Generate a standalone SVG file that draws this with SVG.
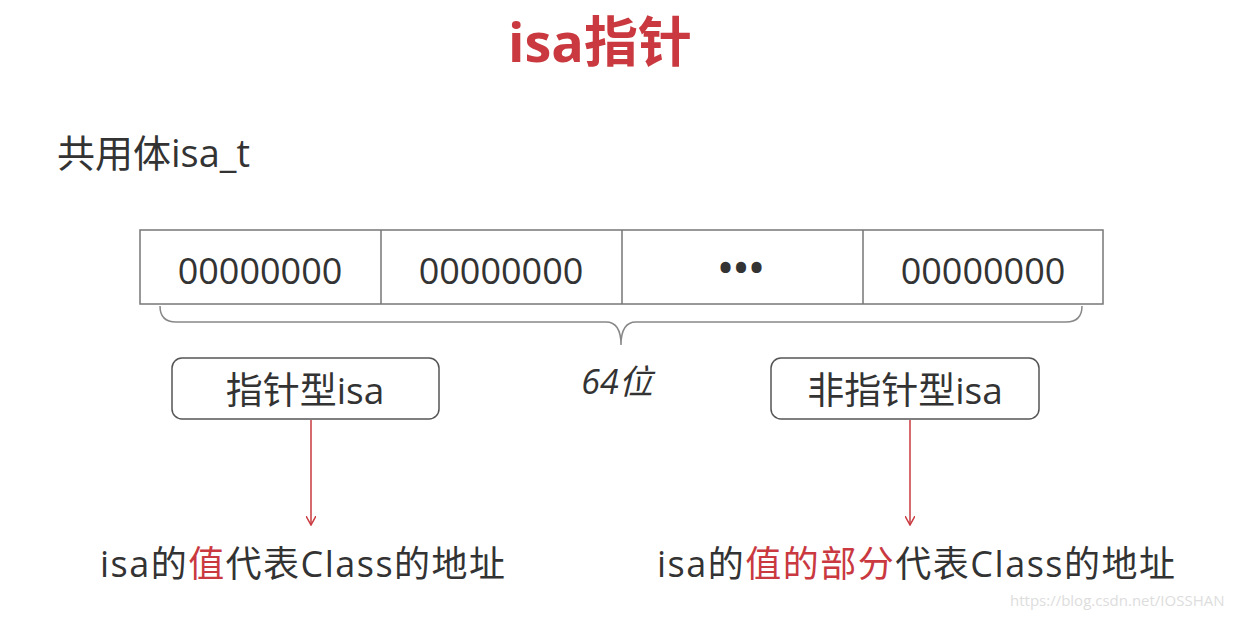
<svg xmlns="http://www.w3.org/2000/svg" width="1236" height="618" viewBox="0 0 1236 618">
<style>
text{font-family:"Open Sans","Noto Sans CJK SC",sans-serif;fill:#333}
.cell{font-size:36px;text-anchor:middle}
.bt{font-size:37px;text-anchor:middle}
.box{fill:#fff;stroke:#555;stroke-width:1.5}
.red{fill:#c9393f}
</style>
<defs><marker id="ah" markerWidth="10" markerHeight="10" refX="8" refY="5" orient="auto" markerUnits="userSpaceOnUse"><path d="M0,0 L9,5 L0,10" fill="none" stroke="#c9393f" stroke-width="1.5"/></marker></defs>
<rect width="1236" height="618" fill="#fff"/>
<text x="600" y="62" style="font-size:54px;font-weight:bold;text-anchor:middle" class="red">isa指针</text>
<text x="57" y="167" style="font-size:38px">共用体isa_t</text>
<g id="bar">
<rect x="140" y="230" width="963" height="74" fill="#fff" stroke="#777" stroke-width="1.5"/>
<path d="M381,230V304M622,230V304M863,230V304" stroke="#777" stroke-width="1.5"/>
<text x="260" y="284" class="cell">00000000</text>
<text x="501" y="284" class="cell">00000000</text>
<text x="742" y="281" class="cell" style="font-weight:bold;letter-spacing:2px">•••</text>
<text x="983" y="284" class="cell">00000000</text>
</g>
<g id="brace"><path d="M160,306 Q160,322 176,322 H606 Q621,322 621,345 Q621,322 636,322 H1066 Q1082,322 1082,306" fill="none" stroke="#888" stroke-width="1.5"/>
<text x="617" y="394" style="font-size:34px;font-style:italic;text-anchor:middle">64位</text></g>
<g id="ptr"><rect x="172" y="358" width="267" height="61" rx="10" class="box"/><text x="305" y="404" class="bt">指针型isa</text></g>
<g id="nonptr"><rect x="771" y="358" width="268" height="61" rx="10" class="box"/><text x="905" y="404" class="bt">非指针型isa</text></g>
<g id="connectors" stroke="#c9393f" stroke-width="1.5">
<line x1="311" y1="420" x2="311" y2="524" marker-end="url(#ah)"/>
<line x1="910" y1="420" x2="910" y2="524" marker-end="url(#ah)"/>
</g>
<g id="leftlabel"><text x="100" y="577" style="font-size:36px" textLength="405" lengthAdjust="spacing">isa的<tspan class="red">值</tspan>代表Class的地址</text></g>
<g id="rightlabel"><text x="657" y="577" style="font-size:36px" textLength="518" lengthAdjust="spacing">isa的<tspan class="red">值的部分</tspan>代表Class的地址</text></g>
<text x="1010" y="606" style="font-size:15px;fill:#ddd">https://blog.csdn.net/IOSSHAN</text>
</svg>
